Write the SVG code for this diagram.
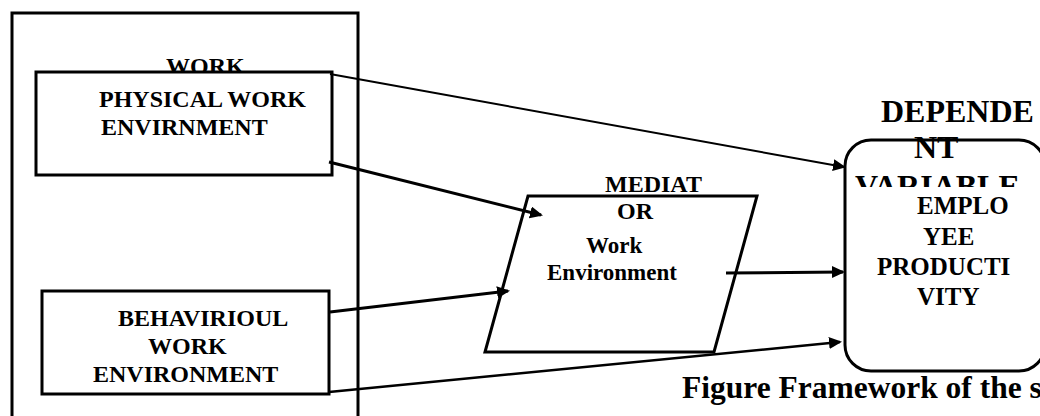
<svg xmlns="http://www.w3.org/2000/svg" width="1040" height="416" viewBox="0 0 1040 416">
  <style>
    .box { fill: #ffffff; stroke: #000000; stroke-width: 3; }
    .t { font-family: "Liberation Serif", "Times New Roman", serif; font-weight: bold; fill: #000000; }
    .f24 { font-size: 24px; }
    .f23 { font-size: 23px; }
    .f25 { font-size: 25px; }
    .f32 { font-size: 32px; }
    .link { stroke: #000000; fill: none; }
  </style>
  <defs>
    <marker id="arrow" markerUnits="userSpaceOnUse" markerWidth="14" markerHeight="13" refX="11" refY="6" orient="auto">
      <path d="M0,0 L13,6 L0,12 z" fill="#000000"/>
    </marker>
  </defs>
  <rect width="1040" height="416" fill="#ffffff"/>

  <!-- independent variables group -->
  <g id="work-environment">
    <rect class="box" x="12" y="13" width="346" height="420"/>
    <text class="t f24" x="166" y="74">WORK</text>
  </g>

  <g id="physical">
    <rect class="box" x="36" y="72" width="296" height="103"/>
    <text class="t f24" x="99" y="107">PHYSICAL WORK</text>
    <text class="t f24" x="101" y="135">ENVIRNMENT</text>
  </g>

  <g id="behavioural">
    <rect class="box" x="42" y="291" width="287" height="103"/>
    <text class="t f24" x="118" y="326">BEHAVIRIOUL</text>
    <text class="t f24" x="148" y="354">WORK</text>
    <text class="t f24" x="93" y="382">ENVIRONMENT</text>
  </g>

  <!-- mediator -->
  <g id="mediator">
    <polygon class="box" points="528,196 757,196 714,352 485,352"/>
    <text class="t f24" x="605" y="192">MEDIAT</text>
    <text class="t f24" x="617" y="219">OR</text>
    <text class="t f23" x="586" y="253">Work</text>
    <text class="t f23" x="547" y="280">Environment</text>
  </g>

  <!-- dependent variable -->
  <g id="dependent">
    <rect class="box" x="845" y="140" width="200" height="231" rx="26" ry="26"/>
    <text class="t f32" x="881" y="122">DEPENDE</text>
    <text class="t f32" x="914" y="158">NT</text>
    <text class="t f32" x="855" y="197">VARIABLE</text>
    <rect x="850" y="187" width="186" height="170" fill="#ffffff"/>
    <text class="t f25" x="917" y="214">EMPLO</text>
    <text class="t f25" x="923" y="245">YEE</text>
    <text class="t f25" x="877" y="275">PRODUCTI</text>
    <text class="t f25" x="917" y="305">VITY</text>
  </g>

  <!-- connectors -->
  <g id="connectors">
    <line class="link" x1="330" y1="74" x2="844" y2="167" stroke-width="2" marker-end="url(#arrow)"/>
    <line class="link" x1="329" y1="162" x2="541" y2="215" stroke-width="3" marker-end="url(#arrow)"/>
    <line class="link" x1="330" y1="312" x2="508" y2="291" stroke-width="3" marker-end="url(#arrow)"/>
    <line class="link" x1="329" y1="392" x2="840" y2="342" stroke-width="2.5" marker-end="url(#arrow)"/>
    <line class="link" x1="726" y1="273" x2="843" y2="272" stroke-width="3" marker-end="url(#arrow)"/>
  </g>

  <text id="caption" class="t" font-size="31.5" x="682" y="398">Figure Framework of the s</text>
</svg>
